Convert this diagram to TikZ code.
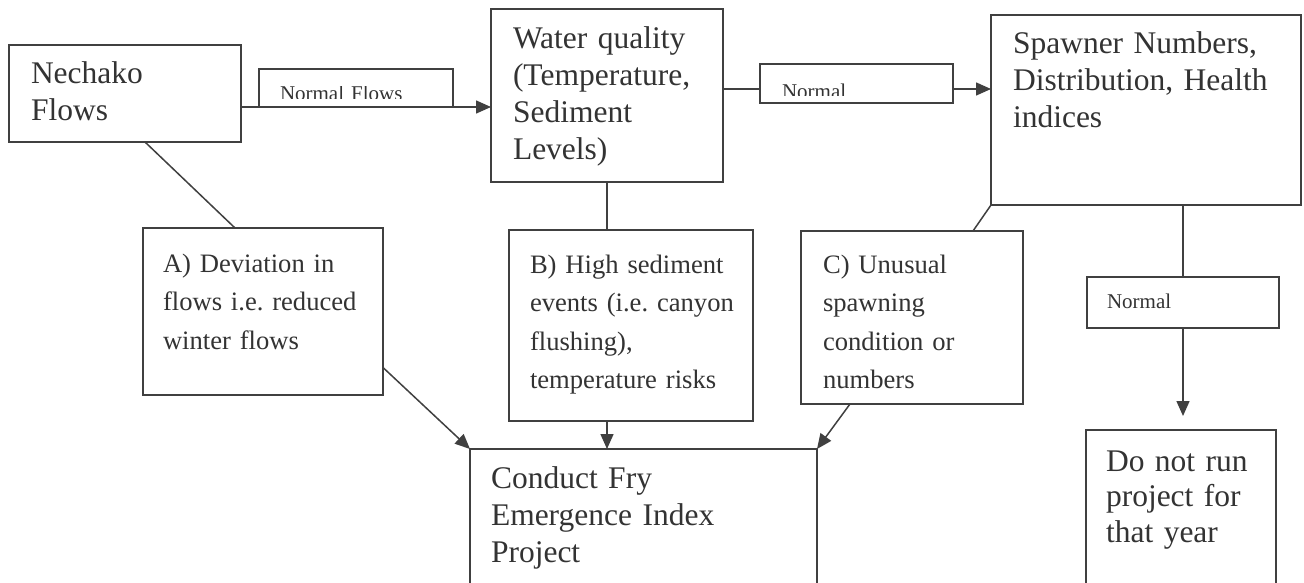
\documentclass[tikz,border=0pt]{standalone}
\usepackage{fontspec}
\setmainfont{Liberation Serif}
\usepackage{trimclip}
\usetikzlibrary{arrows.meta, positioning}

\newcommand{\bigsz}{\fontsize{31.5}{37}\selectfont\frenchspacing}
\newcommand{\midsz}{\fontsize{26.6}{38.5}\selectfont\frenchspacing}
\newcommand{\smallsz}{\fontsize{21}{25}\selectfont}

\begin{document}
\begin{tikzpicture}[x=1pt, y=-1pt,
    box/.style={draw=black!75, line width=1.5pt, text=black!80, anchor=north west,
      align=left, inner ysep=0pt, outer sep=0pt},
    bigbox/.style={box, font=\bigsz},
    midbox/.style={box, font=\midsz},
    tagbox/.style={box, font=\smallsz},
    link/.style={draw=black!75, line width=1.5pt},
    flow/.style={link, -{Triangle[length=15pt, width=13pt]}}]
  \clip (0,0) rectangle (1304,583);
  \fill[white] (0,0) rectangle (1304,583);

  % Main boxes
  \node[bigbox, text width=188pt, inner xsep=22pt, text height=39pt, text depth=58pt]
    (flows) at (9,45) {Nechako\\Flows};
  \node[bigbox, text width=188pt, inner xsep=22pt, text height=40pt, text depth=133pt]
    (water) at (491,9) {Water quality\\(Temperature,\\Sediment\\Levels)};
  \node[bigbox, text width=266pt, inner xsep=22pt, text height=39pt, text depth=151pt]
    (spawn) at (991,15) {Spawner Numbers,\\Distribution, Health\\indices};
  \node[bigbox, text width=305pt, inner xsep=21pt, text height=39pt, text depth=151pt]
    (fry) at (470,449) {Conduct Fry\\Emergence Index\\Project};
  \node[bigbox, text width=150pt, inner xsep=20pt, text height=41pt, text depth=129pt,
    font=\fontsize{31.5}{35.5}\selectfont]
    (halt) at (1086,430) {Do not run\\project for\\that year};

  % Trigger boxes
  \node[midbox, text width=200pt, inner xsep=20pt, text height=44pt, text depth=123pt]
    (devA) at (143,228) {A) Deviation in\\flows i.e. reduced\\winter flows};
  \node[midbox, text width=202pt, inner xsep=21pt, text height=43pt, text depth=148pt]
    (sedB) at (509,230) {B) High sediment\\\mbox{events (i.e. canyon}\\flushing),\\temperature risks};
  \node[midbox, text width=178pt, inner xsep=22pt, text height=42pt, text depth=131pt]
    (oddC) at (801,231) {C) Unusual\\spawning\\condition or\\numbers};

  % Small labels
  \node[tagbox, text width=152pt, inner xsep=21pt, text height=30pt, text depth=8pt]
    (nflow) at (259,69) {\clipbox{0pt 2pt 0pt 0pt}{Normal Flows}};
  \node[tagbox, text width=149pt, inner xsep=22pt, text height=32pt, text depth=7pt]
    (ntop) at (760,64) {\clipbox{0pt 2.5pt 0pt 0pt}{Normal}};
  \node[tagbox, text width=152pt, inner xsep=20pt, text height=31pt, text depth=20pt]
    (nright) at (1087,277) {Normal};

  \coordinate (midline) at (0,89);
  \coordinate (haltend) at (1183,416);

  % Connectors
  \draw[flow] (flows.east |- nflow.south) -- (water.west |- nflow.south);
  \draw[link] (water.east |- midline) -- (ntop.west |- midline);
  \draw[flow] (ntop.east |- midline) -- (spawn.west |- midline);
  \draw[link] ([xshift=136pt]flows.south west) -- ([xshift=92pt]devA.north west);
  \draw[flow] ([yshift=-56pt]devA.east) -- (fry.north west);
  \draw[link] (water.south) -- (water.south |- sedB.north);
  \draw[flow] (water.south |- sedB.south) -- (water.south |- fry.north);
  \draw[link] (spawn.south west) -- ([xshift=172pt]oddC.north west);
  \draw[flow] ([xshift=49pt]oddC.south west) -- (fry.north east);
  \draw[link] (spawn.south -| nright.north) -- (nright.north);
  \draw[flow] (nright.south) -- (haltend);
\end{tikzpicture}
\end{document}
